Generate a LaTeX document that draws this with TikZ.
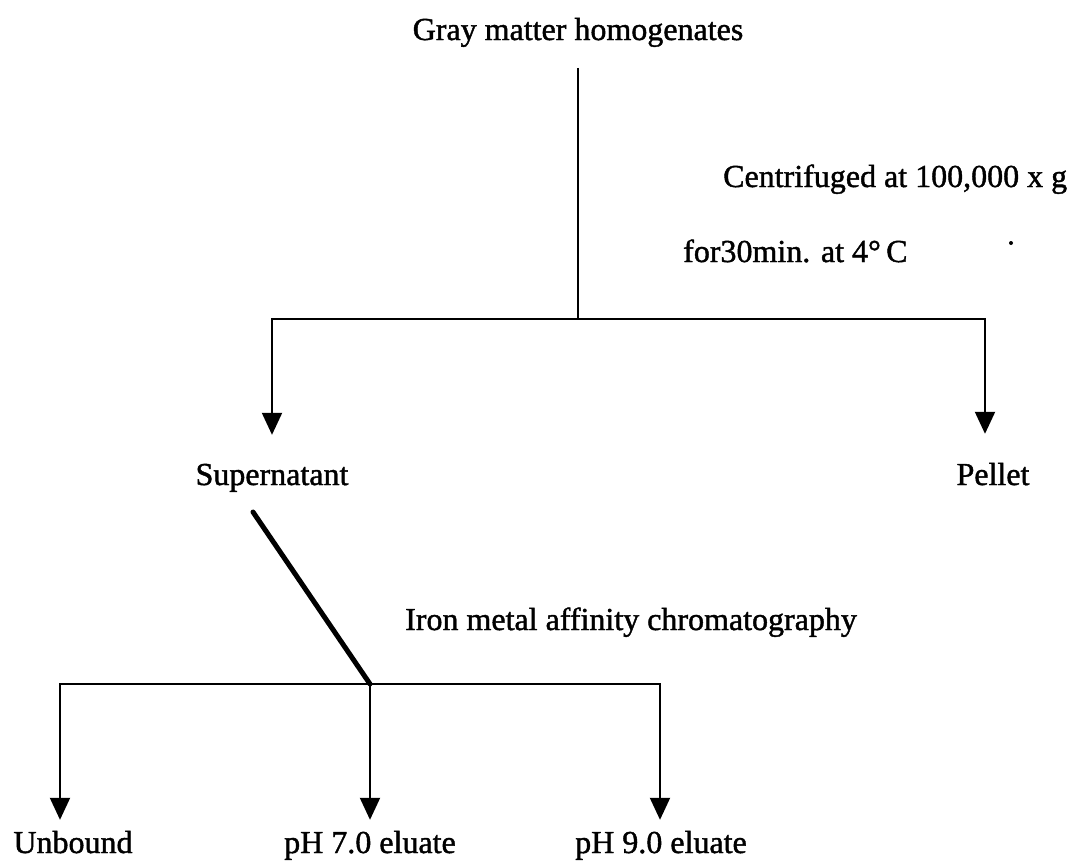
\documentclass[tikz,border=0pt]{standalone}
\usepackage{fontspec}
\setmainfont{Liberation Serif}
\newfontfamily\inkfont{Liberation Serif}[FakeBold=1.3]
\usetikzlibrary{arrows.meta}

\begin{document}
\begin{tikzpicture}[x=1pt, y=-1pt]
\useasboundingbox (0,0) rectangle (1071,863);

\coordinate (J1_0) at (578, 319);
\coordinate (J1_1) at (272, 319);
\coordinate (J1_2) at (985, 319);
\coordinate (S_1) at (253, 512);
\coordinate (J2_0) at (370, 684);
\coordinate (J2_1) at (60, 684);
\coordinate (J2_2) at (660, 684);


\tikzset{LabelStyle/.style = {
 font = \inkfont\fontsize{32}{38}\selectfont,
 text = black,
 inner sep = 0pt,
 anchor = base} }
\tikzset{TopLabel/.style = {LabelStyle, outer sep = 29pt} }
\tikzset{EndLabel/.style = {LabelStyle, outer sep = 11pt} }

\node[LabelStyle, outer sep = 21pt] (Gray) at (578, 40) {Gray matter homogenates};
\node[LabelStyle, anchor = base west] (Spin) at (723, 187) {Centrifuged at 100,000 x g};
\node[LabelStyle, anchor = base west] (Time) at (683, 262) {for30min. at 4°\,C};
\node[TopLabel] (Super) at (272, 485) {Supernatant};
\node[TopLabel] (Pellet) at (993, 485) {Pellet};
\node[LabelStyle, anchor = base west] (Iron) at (405, 630) {Iron metal affinity chromatography};
\node[EndLabel] (Unbound) at (73, 853) {Unbound};
\node[EndLabel] (Ph7) at (370, 853) {pH 7.0 eluate};
\node[EndLabel] (Ph9) at (661, 853) {pH 9.0 eluate};

\fill (1011, 243) circle (2pt);


\tikzset{EdgeStyle/.style = {line width = 2pt} }
\tikzset{ArrowStyle/.style = {EdgeStyle, -{Triangle[width = 20pt, length = 22pt]}} }

\draw[EdgeStyle] (Gray.south) -- (J1_0);
\draw[EdgeStyle, line cap = rect] (J1_1) -- (J1_2);
\draw[ArrowStyle] (J1_1) -- (J1_1 |- Super.north);
\draw[ArrowStyle] (J1_2) -- (J1_2 |- Pellet.north);
\draw[EdgeStyle, line width = 5pt, line cap = round] (S_1) -- (J2_0);
\draw[EdgeStyle, line cap = rect] (J2_1) -- (J2_2);
\draw[ArrowStyle] (J2_1) -- (J2_1 |- Unbound.north);
\draw[ArrowStyle] (J2_0) -- (Ph7.north);
\draw[ArrowStyle] (J2_2) -- (J2_2 |- Ph9.north);

\end{tikzpicture}
\end{document}
